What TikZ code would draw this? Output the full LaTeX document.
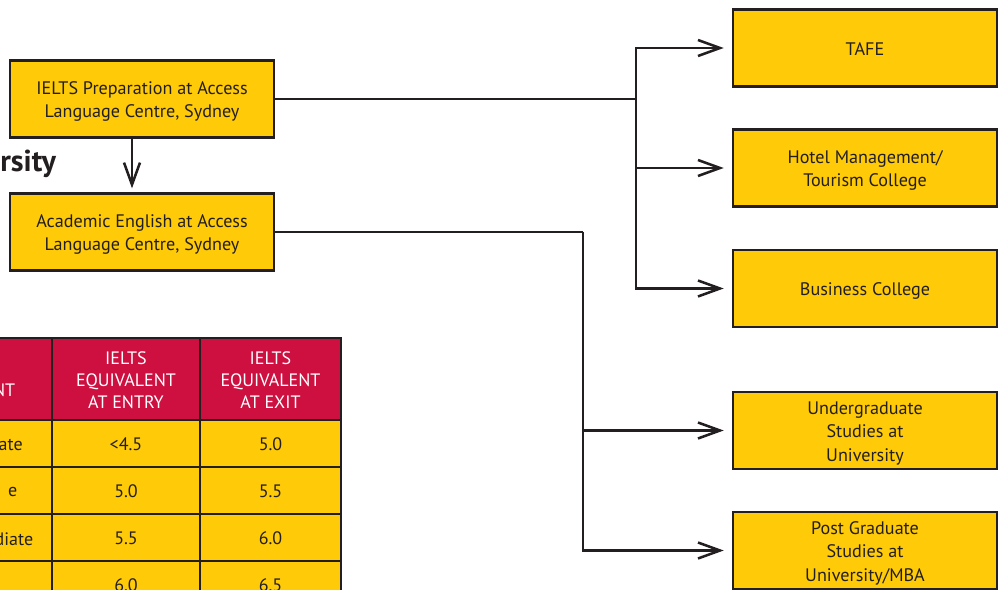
\documentclass[tikz,border=0pt]{standalone}
\usepackage{fontspec}
\setmainfont{PT Sans}
\usepackage{tikz}
\usetikzlibrary{calc}
\usetikzlibrary{positioning}
\usetikzlibrary{arrows.meta}
\definecolor{boxgold}{RGB}{255,202,8}
\definecolor{headred}{RGB}{205,16,64}
\definecolor{inkgray}{RGB}{35,31,32}
\begin{document}
\begin{tikzpicture}[x=0.025cm, y=-0.025cm,
		box/.style={rectangle, draw=inkgray, line width=1.8pt, fill=boxgold, text=inkgray, align=center, inner sep=1pt, text height=10.4pt, text depth=0pt, minimum width=6.6cm, minimum height=1.92cm, font=\fontsize{12.9}{16.5}\selectfont},
		two/.style={text height=26.9pt},
		three/.style={text height=43.4pt},
		cell/.style={rectangle, draw=inkgray, line width=1.8pt, fill=boxgold, text=inkgray, align=center, inner sep=0pt, text height=10.4pt, text depth=0pt, minimum height=1.175cm, font=\fontsize{12.8}{15.4}\selectfont},
		head/.style={cell, fill=headred, text=white, text height=41.4pt, minimum height=2.05cm},
		frag/.style={anchor=east, inner sep=0pt, text=inkgray, font=\fontsize{12.8}{15.4}\selectfont},
		link/.style={draw=inkgray, line width=1.8pt},
		>={Straight Barb[length=5.5mm,width=4mm]}]
				\useasboundingbox (0,0) rectangle (1005,590);
				
				\node[box, two] (P) at (142,99) {IELTS Preparation at Access\\Language Centre, Sydney};
				\node[box, two] (A) at (142,232) {Academic English at Access\\Language Centre, Sydney};
				\node[box] (T) at (865,48) {TAFE};
				\node[box, two] (H) at (865,168) {Hotel Management/\\Tourism College};
				\node[box] (B) at (865,288.5) {Business College};
				\node[box, three] (U) at (865,430.5) {Undergraduate\\Studies at\\University};
				\node[box, three] (G) at (865,550.5) {Post Graduate\\Studies at\\University/MBA};
				\node[anchor=base west, inner sep=0pt, text=inkgray, font=\bfseries\fontsize{21.5}{26}\selectfont] (R) at (0,172) {rsity};
				
				\node[head, minimum width=1.45cm] (L0) at (23,379) {};
				\node[head, minimum width=3.7cm] (E0) at (126,379) {IELTS\\EQUIVALENT\\AT ENTRY};
				\node[head, minimum width=3.525cm] (X0) at (270.5,379) {IELTS\\EQUIVALENT\\AT EXIT};
				\node[cell, minimum width=1.45cm] (L1) at (23,443.5) {};
				\node[cell, minimum width=3.7cm] (E1) at (126,443.5) {<4.5};
				\node[cell, minimum width=3.525cm] (X1) at (270.5,443.5) {5.0};
				\node[cell, minimum width=1.45cm] (L2) at (23,490.5) {};
				\node[cell, minimum width=3.7cm] (E2) at (126,490.5) {5.0};
				\node[cell, minimum width=3.525cm] (X2) at (270.5,490.5) {5.5};
				\node[cell, minimum width=1.45cm] (L3) at (23,537.5) {};
				\node[cell, minimum width=3.7cm] (E3) at (126,537.5) {5.5};
				\node[cell, minimum width=3.525cm] (X3) at (270.5,537.5) {6.0};
				\node[cell, minimum width=1.45cm] (L4) at (23,584.5) {};
				\node[cell, minimum width=3.7cm] (E4) at (126,584.5) {6.0};
				\node[cell, minimum width=3.525cm] (X4) at (270.5,584.5) {6.5};
				
				\node[frag, text=white] (F0) at (15.5,390) {NT};
				\node[frag] (F1) at (23,445) {ate};
				\node[frag] (F2) at (17.5,492) {e};
				\node[frag] (F3) at (33.5,539) {diate};
				
				\coordinate (J1) at (636,99);
				\coordinate (J2) at (583,232);
				
				\draw[link, ->, shorten >=0.1cm]  ([xshift=-0.25cm]P.south) -- ([xshift=-0.25cm]A.north);
				\draw[link]  (P) -- (J1);
				\draw[link, ->, shorten >=0.2cm]  (J1) |- (T);
				\draw[link, ->, shorten >=0.2cm]  (J1) |- (H);
				\draw[link, ->, shorten >=0.2cm]  (J1) |- (B);
				\draw[link]  (A) -- (J2);
				\draw[link, ->, shorten >=0.2cm]  (J2) |- (U);
				\draw[link, ->, shorten >=0.2cm]  (J2) |- (G);
			\end{tikzpicture}
\end{document}
